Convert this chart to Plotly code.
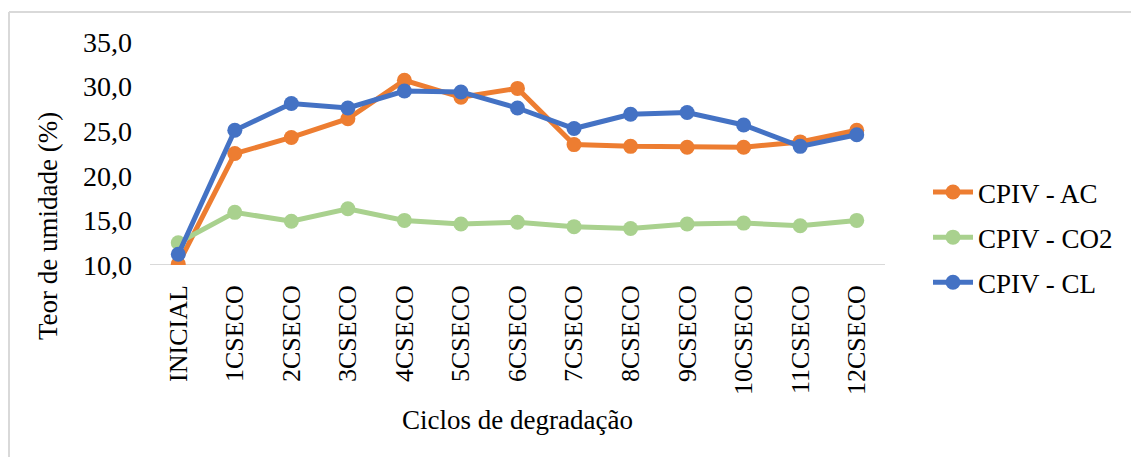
import plotly.graph_objects as go

# Degradation cycles (x categories)
ciclos = ["INICIAL", "1CSECO", "2CSECO", "3CSECO", "4CSECO", "5CSECO", "6CSECO",
          "7CSECO", "8CSECO", "9CSECO", "10CSECO", "11CSECO", "12CSECO"]

# Moisture content (%) per series
cpiv_ac = [10.1, 22.5, 24.3, 26.4, 30.7, 28.8, 29.8, 23.5, 23.3, 23.2, 23.2, 23.8, 25.1]
cpiv_co2 = [12.5, 15.9, 14.9, 16.3, 15.0, 14.6, 14.8, 14.3, 14.1, 14.6, 14.7, 14.4, 15.0]
cpiv_cl = [11.2, 25.1, 28.1, 27.6, 29.5, 29.4, 27.6, 25.3, 26.9, 27.1, 25.7, 23.3, 24.6]

y_ticks = [10, 15, 20, 25, 30, 35]
y_tick_labels = ["10,0", "15,0", "20,0", "25,0", "30,0", "35,0"]

FONT = "Liberation Serif, Times New Roman, serif"
W, H = 1131, 457
L, R, T, B = 150, 246, 42, 192

series = [
    ("CPIV - AC", cpiv_ac, "#ED7D31"),
    ("CPIV - CO2", cpiv_co2, "#A9D18E"),
    ("CPIV - CL", cpiv_cl, "#4472C4"),
]

fig = go.Figure()
for name, vals, color in series:
    fig.add_trace(go.Scatter(
        x=ciclos, y=vals, name=name, mode="lines+markers", legendgroup=name,
        line=dict(color=color, width=5),
        marker=dict(color=color, size=15),
    ))

pw = W - L - R
ph = H - T - B


def px_x(p):
    return (p - L) / pw


def px_y(p):
    return (H - B - p) / ph


# light frame around the chart area
frame = dict(color="#d9d9d9", width=2)
fig.add_shape(type="line", xref="paper", yref="paper",
              x0=px_x(9), x1=px_x(1140), y0=px_y(12), y1=px_y(12), line=frame)
fig.add_shape(type="line", xref="paper", yref="paper",
              x0=px_x(9), x1=px_x(9), y0=px_y(12), y1=px_y(470), line=frame)

fig.add_annotation(
    text="Teor de umidade (%)", textangle=-90, showarrow=False,
    xref="paper", yref="paper", x=px_x(48), y=px_y(226),
    xanchor="center", yanchor="middle",
    font=dict(family=FONT, size=27, color="#000"),
)

fig.update_layout(
    width=W, height=H,
    margin=dict(l=L, r=R, t=T, b=B, autoexpand=False),
    paper_bgcolor="white", plot_bgcolor="white",
    font=dict(family=FONT, size=27, color="#000"),
    showlegend=True,
    legend=dict(
        x=px_x(928), y=px_y(168), xanchor="left", yanchor="top",
        font=dict(family=FONT, size=27, color="#000"),
        bgcolor="rgba(0,0,0,0)", itemwidth=40, tracegroupgap=7,
    ),
    xaxis=dict(
        type="category", range=[-0.5, len(ciclos) - 0.5],
        tickangle=-90, showgrid=False, zeroline=False,
        showline=False, ticks="", ticklabelstandoff=14,
        tickfont=dict(family=FONT, size=26, color="#000"),
        title=dict(text="Ciclos de degradação", standoff=16,
                   font=dict(family=FONT, size=27, color="#000")),
    ),
    yaxis=dict(
        range=[10, 35], tickvals=y_ticks, ticktext=y_tick_labels,
        showgrid=False, zeroline=False, showline=False, ticks="",
        ticklabelstandoff=17,
        tickfont=dict(family=FONT, size=28, color="#000"),
    ),
)

# horizontal baseline at the bottom of the value axis
fig.add_shape(type="line", xref="paper", yref="y", x0=0, x1=1, y0=10, y1=10,
              line=dict(color="#d9d9d9", width=2), layer="below")

fig.write_html("out.html")
